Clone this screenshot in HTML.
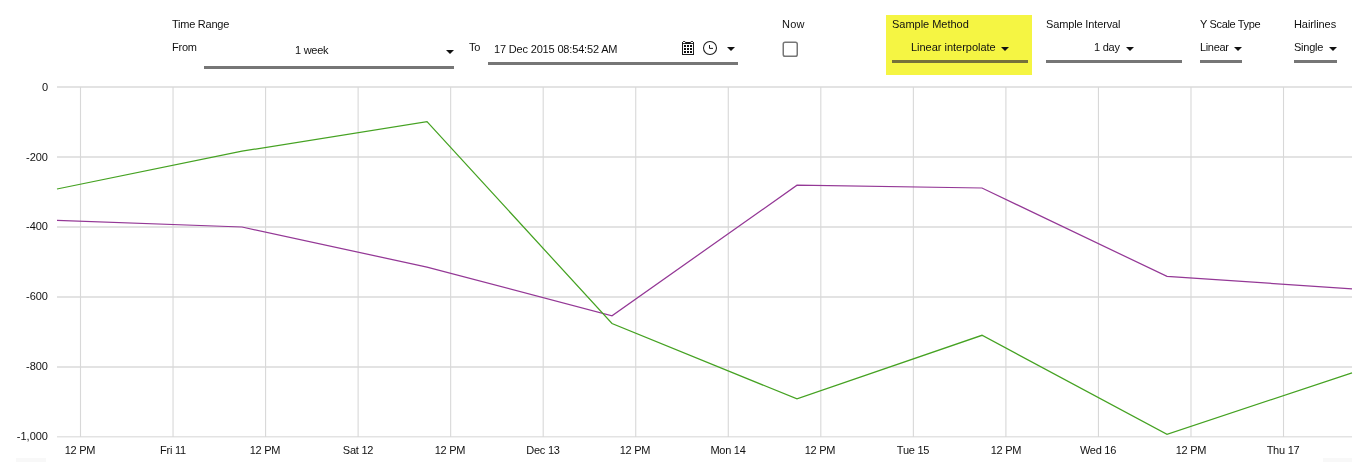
<!DOCTYPE html>
<html><head><meta charset="utf-8"><title>Trend</title>
<style>
html,body{margin:0;padding:0;background:#fff;}
body{width:1368px;height:462px;position:relative;overflow:hidden;font-family:"Liberation Sans",sans-serif;font-size:11px;color:#111;}
.abs{position:absolute;}
.t,.xl,.yl{will-change:transform;}
.t{position:absolute;white-space:nowrap;line-height:14px;height:14px;letter-spacing:-0.25px;}
.ul{position:absolute;height:3px;background:#767676;}
.chart{position:absolute;left:0;top:0;}
.xl{position:absolute;top:443px;width:60px;text-align:center;line-height:14px;white-space:nowrap;letter-spacing:-0.25px;}
.yl{position:absolute;left:0;width:48px;text-align:right;line-height:14px;white-space:nowrap;letter-spacing:0;}
</style></head><body>
<svg class="chart" width="1368" height="462" viewBox="0 0 1368 462">
<line x1="57" y1="87" x2="1352" y2="87" stroke="#e3e3e3" stroke-width="2"/>
<line x1="57" y1="157" x2="1352" y2="157" stroke="#e3e3e3" stroke-width="2"/>
<line x1="57" y1="227" x2="1352" y2="227" stroke="#e3e3e3" stroke-width="2"/>
<line x1="57" y1="297" x2="1352" y2="297" stroke="#e3e3e3" stroke-width="2"/>
<line x1="57" y1="367" x2="1352" y2="367" stroke="#e3e3e3" stroke-width="2"/>
<rect x="57" y="436" width="1295" height="1.5" fill="#e3e3e3"/>
<rect x="16" y="458" width="30" height="4" fill="#f8f8f8"/><rect x="1323" y="458" width="29" height="4" fill="#f8f8f8"/>
<line x1="80.50" y1="87" x2="80.50" y2="437" stroke="#d8d8d8" stroke-width="1.1"/>
<line x1="173.04" y1="87" x2="173.04" y2="437" stroke="#d8d8d8" stroke-width="1.1"/>
<line x1="265.58" y1="87" x2="265.58" y2="437" stroke="#d8d8d8" stroke-width="1.1"/>
<line x1="358.12" y1="87" x2="358.12" y2="437" stroke="#d8d8d8" stroke-width="1.1"/>
<line x1="450.66" y1="87" x2="450.66" y2="437" stroke="#d8d8d8" stroke-width="1.1"/>
<line x1="543.20" y1="87" x2="543.20" y2="437" stroke="#d8d8d8" stroke-width="1.1"/>
<line x1="635.74" y1="87" x2="635.74" y2="437" stroke="#d8d8d8" stroke-width="1.1"/>
<line x1="728.28" y1="87" x2="728.28" y2="437" stroke="#d8d8d8" stroke-width="1.1"/>
<line x1="820.82" y1="87" x2="820.82" y2="437" stroke="#d8d8d8" stroke-width="1.1"/>
<line x1="913.36" y1="87" x2="913.36" y2="437" stroke="#d8d8d8" stroke-width="1.1"/>
<line x1="1005.90" y1="87" x2="1005.90" y2="437" stroke="#d8d8d8" stroke-width="1.1"/>
<line x1="1098.44" y1="87" x2="1098.44" y2="437" stroke="#d8d8d8" stroke-width="1.1"/>
<line x1="1190.98" y1="87" x2="1190.98" y2="437" stroke="#d8d8d8" stroke-width="1.1"/>
<line x1="1283.52" y1="87" x2="1283.52" y2="437" stroke="#d8d8d8" stroke-width="1.1"/>
<polyline fill="none" stroke="#943896" stroke-width="1.25" points="57,220.4 242,227.0 427,267.1 612,315.8 797,185.2 982,188.0 1167,276.4 1352,288.9"/>
<polyline fill="none" stroke="#45a222" stroke-width="1.25" points="57,189.0 242,151.2 427,121.6 612,323.5 797,398.9 982,335.3 1167,434.3 1352,372.8"/>
</svg>
<div class="xl" style="left:50px;">12 PM</div>
<div class="xl" style="left:143px;">Fri 11</div>
<div class="xl" style="left:235px;">12 PM</div>
<div class="xl" style="left:328px;">Sat 12</div>
<div class="xl" style="left:420px;">12 PM</div>
<div class="xl" style="left:513px;">Dec 13</div>
<div class="xl" style="left:605px;">12 PM</div>
<div class="xl" style="left:698px;">Mon 14</div>
<div class="xl" style="left:790px;">12 PM</div>
<div class="xl" style="left:883px;">Tue 15</div>
<div class="xl" style="left:976px;">12 PM</div>
<div class="xl" style="left:1068px;">Wed 16</div>
<div class="xl" style="left:1161px;">12 PM</div>
<div class="xl" style="left:1253px;">Thu 17</div>
<div class="yl" style="top:80px;">0</div>
<div class="yl" style="top:150px;">-200</div>
<div class="yl" style="top:219px;">-400</div>
<div class="yl" style="top:289px;">-600</div>
<div class="yl" style="top:359px;">-800</div>
<div class="yl" style="top:429px;">-1,000</div>
<div class="abs" style="left:886px;top:15px;width:146px;height:60px;background:#f5f543;"></div>

<div class="t" id="t1" style="left:172px;top:17px;">Time Range</div>
<div class="t" id="t2" style="left:172px;top:40px;">From</div>
<div class="t" id="t3" style="left:295px;top:43px;">1 week</div>
<svg class="abs" style="left:446px;top:50px" width="8" height="4" viewBox="0 0 8 4"><path d="M0 0H8L4 4Z" fill="#111"/></svg>
<div class="ul" style="left:204px;top:66px;width:250px;"></div>

<div class="t" id="t4" style="left:469px;top:40px;">To</div>
<div class="t" id="t5" style="letter-spacing:-0.17px;left:494px;top:42px;">17 Dec 2015 08:54:52 AM</div>
<svg class="abs" style="left:681px;top:40px" width="15" height="16" viewBox="0 0 15 16">
 <rect x="1.5" y="2.5" width="11" height="12" fill="none" stroke="#1c1c1c" stroke-width="1"/>
 <rect x="1" y="2" width="12" height="2" fill="#1c1c1c"/>
 <rect x="2" y="1" width="2.2" height="1" fill="#3a3a3a"/><rect x="9.8" y="1" width="2.2" height="1" fill="#3a3a3a"/>
 <rect x="2" y="2" width="2.2" height="1.1" fill="#fff"/><rect x="9.8" y="2" width="2.2" height="1.1" fill="#fff"/>
 <g fill="#111">
 <rect x="3" y="5" width="2" height="2"/><rect x="6" y="5" width="2" height="2"/><rect x="9" y="5" width="2" height="2"/>
 <rect x="3" y="8" width="2" height="2"/><rect x="6" y="8" width="2" height="2"/><rect x="9" y="8" width="2" height="2"/>
 <rect x="3" y="11" width="2" height="2"/><rect x="6" y="11" width="2" height="2"/><rect x="9" y="11" width="2" height="2"/>
 </g>
</svg>
<svg class="abs" style="left:702px;top:40px" width="16" height="16" viewBox="0 0 16 16">
 <circle cx="8" cy="8" r="6.5" fill="none" stroke="#1c1c1c" stroke-width="1.05"/>
 <path d="M7.5 5V8.4H11" fill="none" stroke="#1c1c1c" stroke-width="1"/>
</svg>
<svg class="abs" style="left:727px;top:47px" width="8" height="4" viewBox="0 0 8 4"><path d="M0 0H8L4 4Z" fill="#111"/></svg>
<div class="ul" style="left:488px;top:62px;width:250px;"></div>

<div class="t" id="t6" style="letter-spacing:0.2px;left:782px;top:17px;">Now</div>
<svg class="abs" style="left:782px;top:41px" width="17" height="17" viewBox="0 0 17 17"><rect x="1.25" y="1.25" width="14" height="14" rx="1.8" fill="#fff" stroke="#767676" stroke-width="1.5"/></svg>

<div class="t" id="t7" style="letter-spacing:-0.02px;left:892px;top:17px;">Sample Method</div>
<div class="t" id="t8" style="letter-spacing:-0.02px;left:911px;top:40px;">Linear interpolate</div>
<svg class="abs" style="left:1001.2px;top:47px" width="8" height="4" viewBox="0 0 8 4"><path d="M0 0H8L4 4Z" fill="#111"/></svg>
<div class="ul" style="left:892px;top:60px;width:136px;background:#76723a;"></div>

<div class="t" id="t9" style="letter-spacing:-0.14px;left:1046px;top:17px;">Sample Interval</div>
<div class="t" id="t10" style="left:1094px;top:40px;">1 day</div>
<svg class="abs" style="left:1126px;top:47px" width="8" height="4" viewBox="0 0 8 4"><path d="M0 0H8L4 4Z" fill="#111"/></svg>
<div class="ul" style="left:1046px;top:60px;width:136px;"></div>

<div class="t" id="t11" style="letter-spacing:-0.35px;left:1200px;top:17px;">Y Scale Type</div>
<div class="t" id="t12" style="letter-spacing:-0.35px;left:1200px;top:40px;">Linear</div>
<svg class="abs" style="left:1234px;top:47px" width="8" height="4" viewBox="0 0 8 4"><path d="M0 0H8L4 4Z" fill="#111"/></svg>
<div class="ul" style="left:1200px;top:60px;width:42px;"></div>

<div class="t" id="t13" style="letter-spacing:-0.08px;left:1294px;top:17px;">Hairlines</div>
<div class="t" id="t14" style="left:1294px;top:40px;">Single</div>
<svg class="abs" style="left:1328.7px;top:47px" width="8" height="4" viewBox="0 0 8 4"><path d="M0 0H8L4 4Z" fill="#111"/></svg>
<div class="ul" style="left:1294px;top:60px;width:43px;"></div>
</body></html>
